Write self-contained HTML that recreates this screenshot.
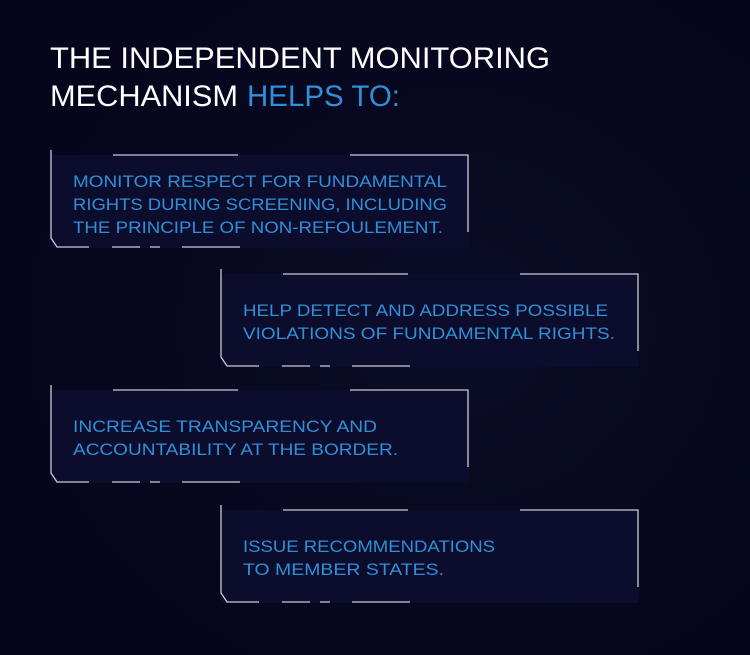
<!DOCTYPE html>
<html><head><meta charset="utf-8"><style>
html,body{margin:0;padding:0;background:#05061a;}
svg{display:block}
text{font-family:"Liberation Sans",sans-serif;}
</style></head><body>
<svg width="750" height="655" viewBox="0 0 750 655" xmlns="http://www.w3.org/2000/svg">
<defs>
<radialGradient id="bg" cx="0.6" cy="0.5" r="0.7">
<stop offset="0" stop-color="#0b0c26"/><stop offset="1" stop-color="#04051a"/>
</radialGradient>
<g id="frame">
<rect x="0" y="0" width="418" height="93" fill="#0c0d2c"/>
<g stroke="#c9cad6" stroke-width="1.3" fill="none">
<path d="M0 -5 V83 L6 92 H38"/>
<path d="M61 92 H89 M99 92 H109 M131 92 H189"/>
<path d="M62 0 H187 M299 0 H417 V77"/>
</g>
</g>
</defs>
<rect width="750" height="655" fill="url(#bg)"/>
<g font-size="30" fill="#ffffff">
<text x="50" y="68" textLength="500" lengthAdjust="spacingAndGlyphs">THE INDEPENDENT MONITORING</text>
<text x="50" y="106" textLength="188" lengthAdjust="spacingAndGlyphs">MECHANISM</text>
<text x="247" y="106" textLength="153" lengthAdjust="spacingAndGlyphs" fill="#2f8fd8">HELPS TO:</text>
</g>
<use href="#frame" x="51" y="155"/>
<use href="#frame" x="221" y="274"/>
<use href="#frame" x="51" y="390"/>
<use href="#frame" x="221" y="510"/>
<g font-size="17" fill="#2f8fd8" lengthAdjust="spacingAndGlyphs">
<text x="73" y="187" textLength="374" lengthAdjust="spacingAndGlyphs">MONITOR RESPECT FOR FUNDAMENTAL</text>
<text x="73" y="210" textLength="374" lengthAdjust="spacingAndGlyphs">RIGHTS DURING SCREENING, INCLUDING</text>
<text x="73" y="233" textLength="370" lengthAdjust="spacingAndGlyphs">THE PRINCIPLE OF NON-REFOULEMENT.</text>
<text x="243" y="316" textLength="365" lengthAdjust="spacingAndGlyphs">HELP DETECT AND ADDRESS POSSIBLE</text>
<text x="243" y="339" textLength="372" lengthAdjust="spacingAndGlyphs">VIOLATIONS OF FUNDAMENTAL RIGHTS.</text>
<text x="73" y="432" textLength="304" lengthAdjust="spacingAndGlyphs">INCREASE TRANSPARENCY AND</text>
<text x="73" y="455" textLength="325" lengthAdjust="spacingAndGlyphs">ACCOUNTABILITY AT THE BORDER.</text>
<text x="243" y="552" textLength="252" lengthAdjust="spacingAndGlyphs">ISSUE RECOMMENDATIONS</text>
<text x="243" y="575" textLength="201" lengthAdjust="spacingAndGlyphs">TO MEMBER STATES.</text>
</g>
</svg>
</body></html>
